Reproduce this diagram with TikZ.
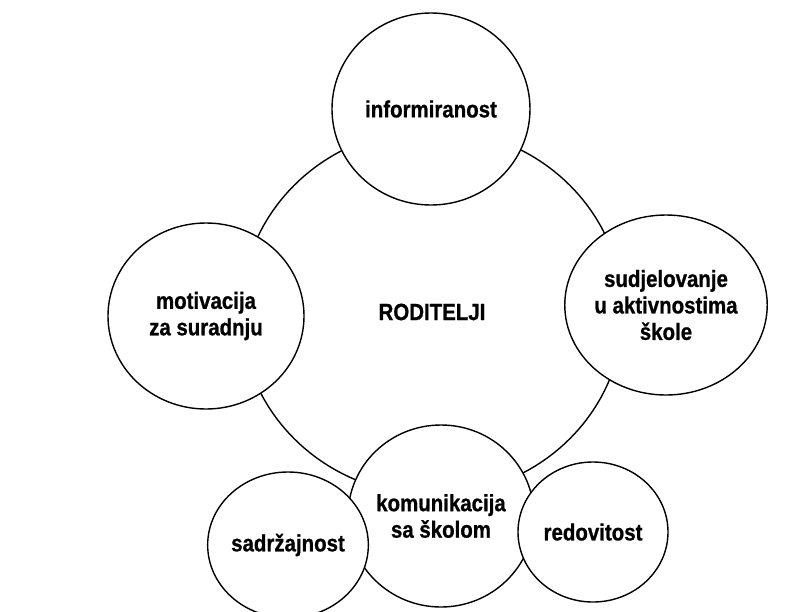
\documentclass[tikz,border=0pt]{standalone}
\usepackage{fontspec}
\newfontfamily\bubblefont[FakeStretch=0.87, FakeBold=0.8]{Liberation Sans}
\usepackage{tikz}
\usetikzlibrary{shapes.geometric, positioning}
\tikzset{bubble/.style={ellipse, draw, fill=white, line width=1.4pt, inner sep=0pt, align=center,
  font=\bubblefont\bfseries\fontsize{23.5}{26.5}\selectfont}}

\begin{document}
\begin{tikzpicture}[x=1pt, y=-1pt]
\useasboundingbox (0,0) rectangle (798,611);
\node[bubble, minimum width=382pt, minimum height=366pt] (roditelji) at (432,312) {RODITELJI};
\node[bubble, minimum width=198pt, minimum height=192pt] (informiranost) at (431,109) {informiranost};
\node[bubble, minimum width=196pt, minimum height=186pt] (motivacija) at (206,316) {motivacija\\za suradnju};
\node[bubble, minimum width=192pt, minimum height=180pt] (sudjelovanje) at (666,305) {sudjelovanje\\u aktivnostima\\škole};
\node[bubble, minimum width=186pt, minimum height=182pt] (komunikacija) at (441,516) {komunikacija\\sa školom};
\node[bubble, minimum width=154pt, minimum height=146pt] (sadrzajnost) at (288,545) {sadržajnost};
\node[bubble, minimum width=150pt, minimum height=140pt] (redovitost) at (593,532) {redovitost};
\end{tikzpicture}
\end{document}
